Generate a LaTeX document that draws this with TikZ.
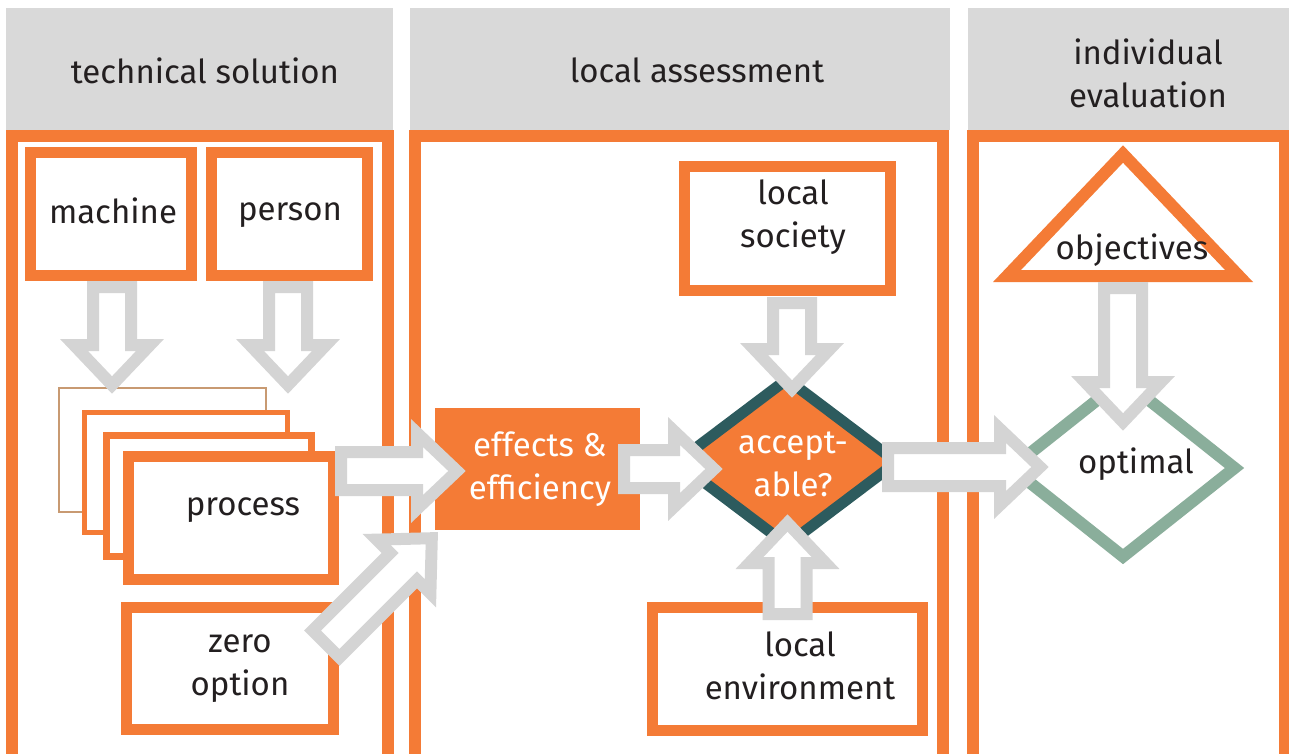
\documentclass[tikz,border=0pt]{standalone}
\usepackage{fontspec}
\setmainfont{Fira Sans}
\usetikzlibrary{shapes.geometric}
\usetikzlibrary{calc}

\definecolor{boxorange}{RGB}{244,123,54}
\definecolor{headgray}{RGB}{217,217,217}
\definecolor{arrowgray}{RGB}{212,212,212}
\definecolor{darkteal}{RGB}{45,91,94}
\definecolor{sage}{RGB}{138,174,155}
\definecolor{ink}{RGB}{35,31,32}
\definecolor{thinline}{RGB}{200,154,114}

% hollow block arrow from #1 to #2
\newcommand{\blockarrow}[2]{%
  \draw[bigarrow] let \p1=(#1), \p2=(#2),
      \n1={atan2(\y2-\y1,\x2-\x1)}, \n2={veclen(\x2-\x1,\y2-\y1)}, \n3={\n2-40pt} in
    ([shift={(\p1)},rotate=\n1]0pt,19pt) -- ([shift={(\p1)},rotate=\n1]\n3,19pt)
    -- ([shift={(\p1)},rotate=\n1]\n3,38pt) -- ([shift={(\p1)},rotate=\n1]\n2,0pt)
    -- ([shift={(\p1)},rotate=\n1]\n3,-38pt) -- ([shift={(\p1)},rotate=\n1]\n3,-19pt)
    -- ([shift={(\p1)},rotate=\n1]0pt,-19pt) -- cycle;}

\begin{document}
\begin{tikzpicture}[x=1pt, y=-1pt,
    head/.style={fill=headgray, minimum height=122, inner sep=0},
    frame/.style={draw=boxorange, fill=white, line width=12, inner sep=0},
    box/.style={draw=boxorange, fill=white, line width=11, inner sep=0},
    lbl/.style={font=\fontsize{33}{43}\selectfont, text=ink, align=center, inner sep=0},
    wlbl/.style={lbl, text=white},
    bigarrow/.style={draw=arrowgray, fill=white, line width=12, line join=miter}]
    \useasboundingbox (0,0) rectangle (1289,754);

    % column heads
    \node[head, minimum width=387] (hd1) at (199.5,69) {};
    \node[head, minimum width=540] (hd2) at (680,69) {};
    \node[head, minimum width=330] (hd3) at (1133,69) {};
    \node[lbl] (hdtxt1) at (205,70.5) {technical solution};
    \node[lbl] (hdtxt2) at (697,70.5) {local assessment};
    \node[lbl] (hdtxt3) at (1148,73) {individual\\evaluation};

    % column frames
    \node[frame, minimum width=375.5, minimum height=623.5] (col1) at (199.75,448.25) {};
    \node[frame, minimum width=528, minimum height=623.5] (col2) at (679,448.25) {};
    \node[frame, minimum width=312, minimum height=623.5] (col3) at (1129,448.25) {};

    % technical solution
    \node[box, minimum width=161, minimum height=123] (machine) at (111,214) {};
    \node[box, minimum width=156, minimum height=123] (person) at (289.5,214) {};
    \node[draw=thinline, fill=white, line width=1.5, minimum width=207, minimum height=124, inner sep=0] (proc0) at (162.5,450) {};
    \node[box, line width=5, minimum width=203.5, minimum height=120] (proc1) at (185.75,472) {};
    \node[box, line width=7, minimum width=205, minimum height=121] (proc2) at (208.5,495.5) {};
    \node[box, minimum width=205.5, minimum height=123] (process) at (230.75,518) {};
    \node[box, minimum width=206.5, minimum height=122] (zero) at (229.75,668.5) {};
    \node[lbl] (machinetxt) at (113,210.5) {machine};
    \node[lbl] (persontxt) at (290,215.5) {person};
    \node[lbl] (processtxt) at (243,510.5) {process};
    \node[lbl] (zerotxt) at (240,669) {zero\\option};

    % local assessment
    \node[fill=boxorange, minimum width=205, minimum height=122, inner sep=0] (effects) at (537.5,469) {};
    \node[box, minimum width=206, minimum height=124] (society) at (787.5,228.5) {};
    \node[box, minimum width=269.5, minimum height=123] (environ) at (787.25,668.5) {};
    \node[diamond, draw=darkteal, fill=boxorange, line width=11, minimum width=224, minimum height=170, inner sep=0] (accept) at (787,462) {};
    \node[wlbl] (effectstxt) at (540,469) {effects \&\\efficiency};
    \node[lbl] (societytxt) at (793,217) {local\\society};
    \node[lbl] (environtxt) at (800,666) {local\\environment};
    \node[wlbl] (accepttxt) at (793,464) {accept-\\able?};

    % individual evaluation
    \draw[draw=boxorange, fill=white, line width=12, line join=miter] (1123,154) -- (1239,276) -- (1007,276) -- cycle;
    \node[diamond, draw=sage, fill=white, line width=12, minimum width=228, minimum height=182, inner sep=0] (optimal) at (1123,468) {};
    \node[lbl] (objectives) at (1132,250) {objectives};
    \node[lbl] (optimaltxt) at (1136,464) {optimal};

    % arrow ends
    \coordinate (machine-out) at ($(machine.south)+(1,6)$);
    \coordinate (person-out) at ($(person.south)+(-1.5,6)$);
    \coordinate (stack-in1) at (112,385);
    \coordinate (stack-in2) at (288,385);
    \coordinate (process-out) at (341,471);
    \coordinate (effects-in1) at (457,471);
    \coordinate (zero-out) at (326,644);
    \coordinate (effects-in2) at ($(effects.south west)+(-3,8)$);
    \coordinate (effects-out) at (624,469);
    \coordinate (accept-in1) at (714,469);
    \coordinate (society-out) at (792,303);
    \coordinate (accept-in2) at (792,389);
    \coordinate (environ-out) at (787.5,614);
    \coordinate (accept-in3) at (787.5,523);
    \coordinate (accept-out) at (888,467);
    \coordinate (optimal-in1) at (1040,467);
    \coordinate (objectives-out) at (1123,288);
    \coordinate (optimal-in2) at (1123,422);

    \blockarrow{machine-out}{stack-in1}
    \blockarrow{person-out}{stack-in2}
    \blockarrow{process-out}{effects-in1}
    \blockarrow{zero-out}{effects-in2}
    \blockarrow{effects-out}{accept-in1}
    \blockarrow{society-out}{accept-in2}
    \blockarrow{environ-out}{accept-in3}
    \blockarrow{accept-out}{optimal-in1}
    \blockarrow{objectives-out}{optimal-in2}
\end{tikzpicture}
\end{document}
